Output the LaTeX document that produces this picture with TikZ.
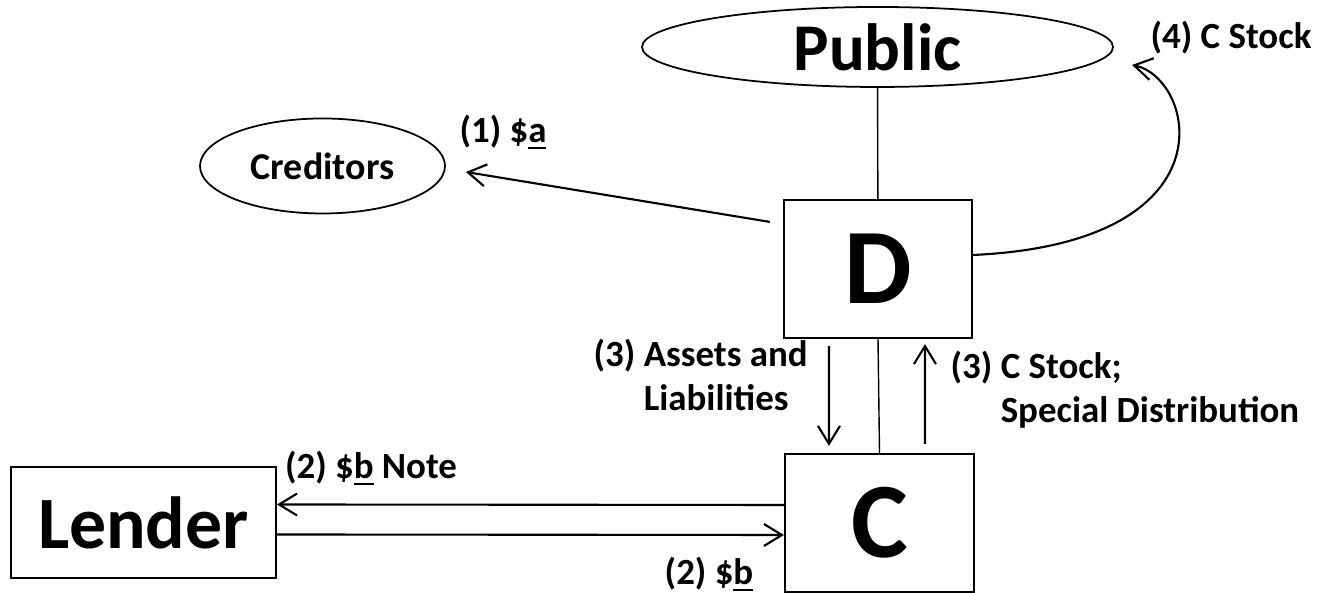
\documentclass[tikz,border=0pt]{standalone}
\usepackage{fontspec}
\setmainfont{Carlito}
\usetikzlibrary{shapes.geometric,arrows.meta,calc}
\newcommand{\lblfont}{\bfseries\fontsize{10.5}{12.5}\selectfont}
\newcommand{\ulchar}[1]{\setbox0\hbox{#1}\rlap{\rule[-.35ex]{\wd0}{.6pt}}#1}
\tikzset{
  box/.style={draw,line width=.6pt,inner sep=0pt},
  oval/.style={ellipse,draw,line width=.5pt,inner sep=0pt},
  lbl/.style={font=\lblfont,inner sep=0pt,align=left},
  arr/.style={-{Straight Barb[length=1.8mm,width=2.2mm]},line width=.6pt},
  link/.style={line width=.4pt}
}

\begin{document}
\begin{tikzpicture}
\useasboundingbox (0,0) rectangle (13.17,5.93);
\node[oval,minimum width=4.71cm,minimum height=.8cm,font=\bfseries\fontsize{19}{22}\selectfont] (public) at (8.775,5.46) {Public};
\node[oval,minimum width=2.45cm,minimum height=.95cm,font=\bfseries\fontsize{10.8}{13}\selectfont] (creditors) at (3.225,4.27) {Creditors};
\node[box,minimum width=1.88cm,minimum height=1.38cm,font=\bfseries\fontsize{30.5}{36}\selectfont] (dbox) at (8.78,3.24) {D};
\node[box,minimum width=1.89cm,minimum height=1.38cm,font=\bfseries\fontsize{30.5}{36}\selectfont] (cbox) at (8.795,0.70) {C};
\node[box,minimum width=2.65cm,minimum height=1.11cm,font=\bfseries\fontsize{21}{25}\selectfont] (lender) at (1.435,0.705) {Lender};
% labels
\node[lbl] (lbl1) at (5.03,4.61) {(1) \$\ulchar{a}};
\node[lbl] (lbl2top) at (3.71,1.25) {(2) \$\ulchar{b} Note};
\node[lbl,anchor=base] (lbl2bot) at (7.09,0.08) {(2) \$\ulchar{b}};
\node[lbl,anchor=west] (lbl3left) at (5.93,2.155) {(3) Assets and\\\phantom{(3)\ }Liabilities};
\node[lbl,anchor=west] (lbl3right) at (9.50,2.03) {(3) C Stock;\\\phantom{(3)\ }Special Distribution};
\node[lbl] (lbl4) at (12.31,5.55) {(4) C Stock};
% connectors
\draw[link] (public) -- (dbox);
\draw[link] (dbox.south) -- (cbox.north);
\coordinate (credstart) at ($(dbox.north west)+(-.13,-.23)$);
\coordinate (credend) at ($(creditors.east)+(.2,-.06)$);
\draw[arr] (credstart) -- (credend);
\coordinate (stockend) at (11.32,5.28);
\draw[arr] ([yshift=1.4mm]dbox.east) .. controls (12.35,3.5) and (11.95,5.15) .. (stockend);
\draw[arr] ($(dbox.south west)+(.46,-.07)$) -- ($(cbox.north west)+(.45,.07)$);
\draw[arr] ($(cbox.north west)+(1.41,.09)$) -- ($(dbox.south west)+(1.42,-.05)$);
\draw[arr] ([yshift=1.8mm]cbox.west) -- ([yshift=1.8mm]lender.east);
\draw[arr] ([yshift=-1.2mm]lender.east) -- ([yshift=-1.2mm]cbox.west);
\end{tikzpicture}
\end{document}
